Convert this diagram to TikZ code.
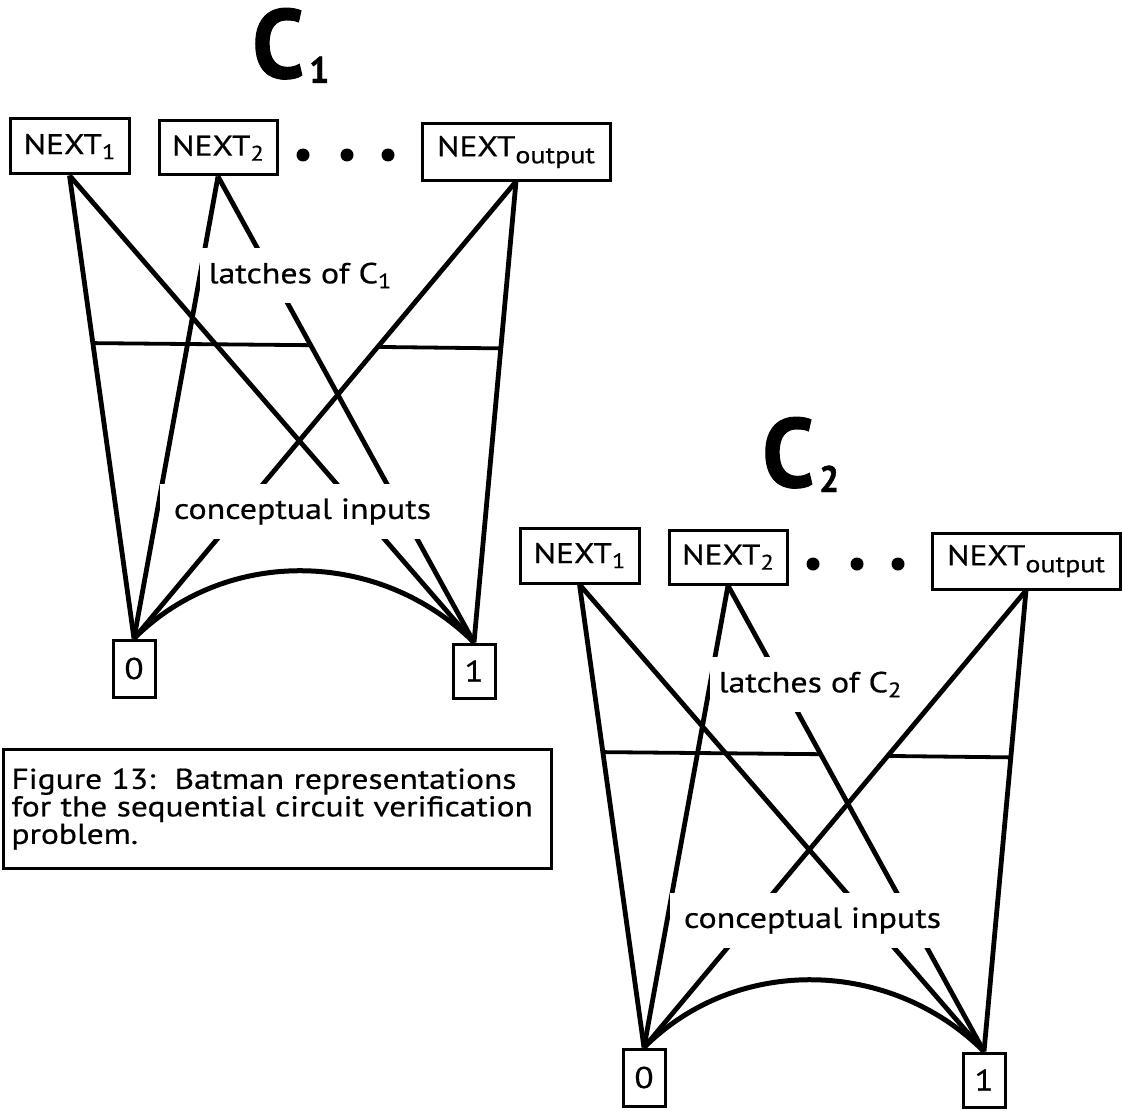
\documentclass[tikz,border=0pt]{standalone}
\usepackage{fontspec}
\setmainfont[FakeStretch=1.17, FakeBold=0.6]{PT Sans}
\newfontfamily\titlefam[FakeStretch=0.95, FakeBold=1]{PT Sans}
\usetikzlibrary{calc}

% font sizes (1 unit = 1pt)
\newcommand\boxfont{\fontsize{28.5}{30}\selectfont}
\newcommand\digitfont{\fontsize{30}{30}\selectfont}
\newcommand\labelfont{\fontsize{29}{30}\selectfont}
\newcommand\capfont{\fontsize{28.6}{27.5}\selectfont\hyphenpenalty=10000 }
\newcommand\titlefont{\titlefam\fontsize{98}{98}\selectfont\bfseries}

% lowered subscripts
\newcommand\lowsub[1]{\raisebox{-5pt}{\fontsize{21}{21}\selectfont #1}}
\newcommand\lowsubout[1]{\raisebox{-7pt}{\fontsize{24}{24}\selectfont #1}}
\newcommand\titlesub[1]{\hspace{5pt}\raisebox{-5pt}{\fontsize{37}{37}\selectfont\bfseries #1}}

\tikzset{
  box/.style={draw, line width=3pt, inner sep=0pt, font=\boxfont},
  digitbox/.style={box, font=\digitfont, minimum width=42, minimum height=56},
  wire/.style={line width=4.8pt},
  rung/.style={line width=3.8pt},
  gaplabel/.style={fill=white, inner sep=0pt, font=\labelfont, minimum height=55},
  dotmark/.style={circle, fill, inner sep=0pt, minimum size=13},
}

% one Batman representation: #1 name prefix, #2/#3 shift, #4 circuit index
\newcommand\batman[4]{%
\begin{scope}[shift={(#2,#3)}]
  \node[anchor=base west, inner sep=0pt, font=\titlefont] (#1title) at (252,78) {C\titlesub{#4}};
  % next-state functions
  \node[box, minimum width=119, minimum height=55] (#1n1) at (69.5,146.5) {NEXT\lowsub{1}};
  \node[box, minimum width=118, minimum height=54] (#1n2) at (218,148) {NEXT\lowsub{2}};
  \node[box, minimum width=188, minimum height=56] (#1no) at (516,152) {NEXT\lowsubout{output}};
  \node[dotmark] (#1d1) at (303,155) {};
  \node[dotmark] (#1d2) at (347,155) {};
  \node[dotmark] (#1d3) at (388,155) {};
  % terminals
  \node[digitbox, minimum height=57] (#1z0) at (134,668.5) {0};
  \node[digitbox, minimum height=54] (#1z1) at (474,671) {1};
  % edges
  \draw[wire] (#1n1.south) -- (#1z0.north);
  \draw[wire] (#1n1.south) -- (#1z1.north);
  \draw[wire] (#1n2.south) -- (#1z0.north);
  \draw[wire] (#1n2.south) -- (#1z1.north);
  \draw[wire] (#1no.south) -- (#1z0.north);
  \draw[wire] (#1no.south) -- (#1z1.north);
  \draw[wire, line width=5pt] (#1z0.north) .. controls +(93,-93) and +(-93,-93) .. (#1z1.north);
  % level separator
  \draw[rung] ($(#1n1.south)!0.362!(#1z0.north)$) -- ($(#1n2.south)!0.362!(#1z1.north)$);
  \draw[rung] ($(#1no.south)!0.362!(#1z0.north)$) -- ($(#1no.south)!0.362!(#1z1.north)$);
  % labels breaking the edges
  \node[gaplabel, minimum width=200] (#1latch) at (300,275.5) {latches of C\lowsub{#4}};
  \node[gaplabel, minimum width=285] (#1input) at (302.5,511.5) {conceptual inputs};
\end{scope}}

\begin{document}
\begin{tikzpicture}[x=1pt,y=-1pt]
  \useasboundingbox (0,0) rectangle (1123,1110);
  \batman{a}{0}{0}{1}
  \batman{b}{510}{409}{2}
  \node[draw, line width=3pt, anchor=north west, align=left, text width=532,
        inner xsep=8pt, inner ysep=0pt, minimum height=119, font=\capfont]
        (caption) at (2,748)
        {Figure 13:\ \ Batman representations\\for the sequential circuit verification\\problem.};
\end{tikzpicture}
\end{document}
